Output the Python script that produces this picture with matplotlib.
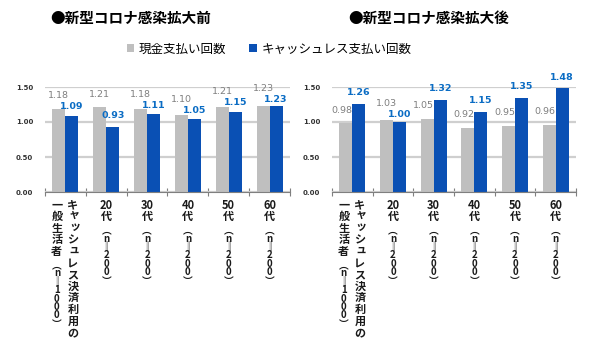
import re
import numpy as np
import matplotlib
matplotlib.use('Agg')
import matplotlib.pyplot as plt

plt.rcParams['font.family'] = ['Noto Sans CJK JP', 'DejaVu Sans']

# data
cat_main = ['キャッシュレス決済利用の\n一般生活者', '20代', '30代', '40代', '50代', '60代']
cat_n = ['1000', '200', '200', '200', '200', '200']
series = ['現金支払い回数', 'キャッシュレス支払い回数']
titles = ['●新型コロナ感染拡大前', '●新型コロナ感染拡大後']
before_cash = [1.18, 1.21, 1.18, 1.10, 1.21, 1.23]
before_cashless = [1.09, 0.93, 1.11, 1.05, 1.15, 1.23]
after_cash = [0.98, 1.03, 1.05, 0.92, 0.95, 0.96]
after_cashless = [1.26, 1.00, 1.32, 1.15, 1.35, 1.48]

gray = '#BFBFBF'
blue = '#0A50B4'
blue_txt = '#0A6CC4'
gray_txt = '#7F7F7F'
small_kana = 'ャッュョァィゥェォ'

fig = plt.figure(figsize=(6, 3.53), dpi=100)
W, H = 600, 353


def axes_px(x0, x1, ytop, ybot):
    return fig.add_axes([x0 / W, 1 - ybot / H, (x1 - x0) / W, (ybot - ytop) / H])


def put(ax, x, dx, dy, t, size):
    ax.annotate(t, xy=(x, 0), xycoords=('data', 'axes fraction'),
                xytext=(dx, dy), textcoords='offset pixels',
                ha='center', va='center', fontsize=size, fontweight='bold',
                color='#1a1a1a', annotation_clip=False)


def vertical_label(ax, x, dx, main, n):
    # stack characters top to bottom under the axis
    y = 13
    for t in re.findall(r'\d+|.', main):
        if t in small_kana:
            put(ax, x, dx + 1.5, -(y - 2), t, 8)
        else:
            put(ax, x, dx, -y, t, 8)
        y += 11.6
    if n is None:
        return
    y += 2
    for t in ['︵', 'n', '‖'] + list(n) + ['︶']:
        put(ax, x, dx, -y, t, 7)
        y += 8.4


def panel(ax, cash, cashless):
    x = np.arange(len(cash))
    w = 0.32
    ax.set_xlim(-0.5, len(cash) - 0.5)
    ax.set_ylim(0, 1.5)
    b1 = ax.bar(x - w / 2, cash, w, color=gray, label=series[0], zorder=2)
    b2 = ax.bar(x + w / 2, cashless, w, color=blue, label=series[1], zorder=2)

    # value labels, pushed apart when they would collide
    k = ax.bbox.height / 1.5
    for xi, vg, vb in zip(x, cash, cashless):
        hg = vg * k + 13
        hb = vb * k + 11
        if abs(hg - hb) < 11:
            m = (hg + hb) / 2
            if vg >= vb:
                hg, hb = m + 5.5, m - 5.5
            else:
                hg, hb = m - 5.5, m + 5.5
        gdx = -4 if vb > vg + 0.05 else 0
        ax.annotate(f'{vg:.2f}', xy=(xi - w / 2, vg), xytext=(gdx, hg - vg * k),
                    textcoords='offset pixels', ha='center', va='center',
                    fontsize=6.8, color=gray_txt, family='DejaVu Sans',
                    annotation_clip=False)
        ax.annotate(f'{vb:.2f}', xy=(xi + w / 2, vb), xytext=(0, hb - vb * k),
                    textcoords='offset pixels', ha='center', va='center',
                    fontsize=6.8, color=blue_txt, fontweight='bold',
                    family='DejaVu Sans', annotation_clip=False)

    ax.set_yticks([0, 0.5, 1.0, 1.5])
    ax.set_yticklabels([f'{t:.2f}' for t in [0, 0.5, 1.0, 1.5]],
                       fontsize=5, fontweight='bold', color='#333333',
                       family='DejaVu Sans')
    ax.tick_params(axis='y', length=0, pad=8.5)
    ax.set_xticks(np.arange(-0.5, len(cash)))
    ax.set_xticklabels([])
    ax.tick_params(axis='x', direction='inout', length=6, color='#7F7F7F')
    ax.yaxis.grid(True, color='#CFCFCF', lw=1.6)
    ax.set_axisbelow(True)
    for s in ['top', 'right', 'left']:
        ax.spines[s].set_visible(False)
    ax.spines['bottom'].set_color('#7F7F7F')
    ax.spines['bottom'].set_zorder(3)
    for i, (m, n) in enumerate(zip(cat_main, cat_n)):
        cols = m.split('\n')
        if len(cols) == 2:
            vertical_label(ax, i, 7.5, cols[0], None)
            vertical_label(ax, i, -8.5, cols[1], n)
        else:
            vertical_label(ax, i, 0, m, n)
    return b1, b2


ax1 = axes_px(45, 290, 87, 192)
ax2 = axes_px(332, 576, 87, 192)
h = panel(ax1, before_cash, before_cashless)
panel(ax2, after_cash, after_cashless)

fig.text(50 / W, 1 - 18 / H, titles[0], fontsize=10.5, fontweight='bold',
         va='center', ha='left')
fig.text(348 / W, 1 - 18 / H, titles[1], fontsize=10.5, fontweight='bold',
         va='center', ha='left')

fig.legend(handles=list(h), loc='center', bbox_to_anchor=(269 / W, 1 - 49 / H),
           ncol=2, frameon=False, fontsize=9, handlelength=0.6,
           handleheight=0.6, handletextpad=0.4, columnspacing=1.8)

fig.savefig('out.png', dpi=100)
